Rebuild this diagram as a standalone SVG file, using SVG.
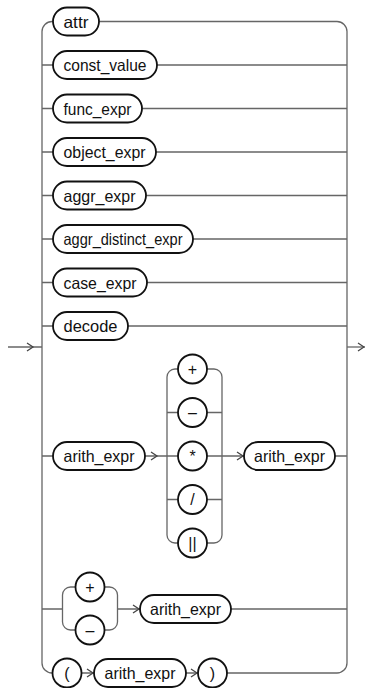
<svg xmlns="http://www.w3.org/2000/svg" width="365" height="688" viewBox="0 0 365 688">
<style>
.n rect, .n circle { fill: #fff; stroke: #111; stroke-width: 1.8; }
.n text { font-family: "Liberation Sans", Arial, sans-serif; font-size: 16.5px; fill: #111; text-anchor: middle; }
.n text.op { font-size: 16px; }
#connectors path { fill: none; stroke: #666; stroke-width: 1.3; }
#connectors path.ah { stroke: #444; stroke-width: 1.3; }
</style>
<rect width="365" height="688" fill="#fff"/>
<g id="connectors">
  <path d="M53,21.5 H52 A10,10 0 0 0 42,31.5 V663 A10,10 0 0 0 52,673 H53"/>
  <path d="M99,21.5 H337 A10,10 0 0 1 347,31.5 V663 A10,10 0 0 1 337,673 H226.5"/>
  <path d="M8,347 H42"/>
  <path class="ah" d="M27,343 L33,347 L27,351"/>
  <path d="M347,347 H365"/>
  <path class="ah" d="M358,343 L364,347 L358,351"/>
  <path d="M42,65 H53 M157,65 H347"/>
  <path d="M42,108.5 H53 M142,108.5 H347"/>
  <path d="M42,152 H53 M156,152 H347"/>
  <path d="M42,195.5 H53 M146,195.5 H347"/>
  <path d="M42,239 H53 M193,239 H347"/>
  <path d="M42,282.5 H53 M147,282.5 H347"/>
  <path d="M42,326 H53 M128,326 H347"/>
  <path d="M42,456 H53 M145,456 H178 M207,456 H244 M335,456 H347"/>
  <path class="ah" d="M151,452 L157,456 L151,460"/>
  <path class="ah" d="M237,452 L243,456 L237,460"/>
  <path d="M178,369 H175 A8,8 0 0 0 167,377 V535 A8,8 0 0 0 175,543 H178"/>
  <path d="M207,369 H214 A8,8 0 0 1 222,377 V535 A8,8 0 0 1 214,543 H207"/>
  <path d="M167,412.5 H178 M207,412.5 H222"/>
  <path d="M167,499.5 H178 M207,499.5 H222"/>
  <path d="M42,609 H62.5 M117.5,609 H140 M231,609 H347"/>
  <path class="ah" d="M133,605 L139,609 L133,613"/>
  <path d="M75.5,587 H70.5 A8,8 0 0 0 62.5,595 V622 A8,8 0 0 0 70.5,630 H75.5"/>
  <path d="M104.5,587 H109.5 A8,8 0 0 1 117.5,595 V622 A8,8 0 0 1 109.5,630 H104.5"/>
  <path d="M81.5,673 H94 M186,673 H198"/>
  <path class="ah" d="M87,669 L93,673 L87,677"/>
  <path class="ah" d="M191,669 L197,673 L191,677"/>
</g>
<g id="n-attr" class="n"><rect x="53" y="7.5" width="46" height="28" rx="14"/><text x="76" y="27.5" textLength="25" lengthAdjust="spacingAndGlyphs">attr</text></g>
<g id="n-const_value" class="n"><rect x="53" y="51" width="104" height="28" rx="14"/><text x="105" y="71" textLength="83" lengthAdjust="spacingAndGlyphs">const_value</text></g>
<g id="n-func_expr" class="n"><rect x="53" y="94.5" width="89" height="28" rx="14"/><text x="97.5" y="114.5" textLength="68" lengthAdjust="spacingAndGlyphs">func_expr</text></g>
<g id="n-object_expr" class="n"><rect x="53" y="138" width="103" height="28" rx="14"/><text x="104.5" y="158" textLength="82" lengthAdjust="spacingAndGlyphs">object_expr</text></g>
<g id="n-aggr_expr" class="n"><rect x="53" y="181.5" width="93" height="28" rx="14"/><text x="99.5" y="201.5" textLength="72" lengthAdjust="spacingAndGlyphs">aggr_expr</text></g>
<g id="n-aggr_distinct_expr" class="n"><rect x="53" y="225" width="140" height="28" rx="14"/><text x="123" y="245" textLength="119" lengthAdjust="spacingAndGlyphs">aggr_distinct_expr</text></g>
<g id="n-case_expr" class="n"><rect x="53" y="268.5" width="94" height="28" rx="14"/><text x="100" y="288.5" textLength="73" lengthAdjust="spacingAndGlyphs">case_expr</text></g>
<g id="n-decode" class="n"><rect x="53" y="312" width="75" height="28" rx="14"/><text x="90.5" y="332" textLength="54" lengthAdjust="spacingAndGlyphs">decode</text></g>
<g id="n-arith_expr-1" class="n"><rect x="53" y="442" width="92" height="28" rx="14"/><text x="99" y="462" textLength="71" lengthAdjust="spacingAndGlyphs">arith_expr</text></g>
<g id="n-op-plus" class="n"><circle cx="192.5" cy="369" r="14.5"/><text class="op" x="192.5" y="374.5">+</text></g>
<g id="n-op-minus" class="n"><circle cx="192.5" cy="412.5" r="14.5"/><text class="op" x="192.5" y="418">–</text></g>
<g id="n-op-mul" class="n"><circle cx="192.5" cy="456" r="14.5"/><text class="op" x="192.5" y="461.5">*</text></g>
<g id="n-op-div" class="n"><circle cx="192.5" cy="499.5" r="14.5"/><text class="op" x="192.5" y="505">/</text></g>
<g id="n-op-concat" class="n"><circle cx="192.5" cy="543" r="14.5"/><text class="op" x="192.5" y="548.5">||</text></g>
<g id="n-arith_expr-2" class="n"><rect x="244" y="442" width="91" height="28" rx="14"/><text x="289.5" y="462" textLength="71" lengthAdjust="spacingAndGlyphs">arith_expr</text></g>
<g id="n-unary-plus" class="n"><circle cx="90" cy="587" r="14.5"/><text class="op" x="90" y="592.5">+</text></g>
<g id="n-unary-minus" class="n"><circle cx="90" cy="630" r="14.5"/><text class="op" x="90" y="635.5">–</text></g>
<g id="n-arith_expr-3" class="n"><rect x="140" y="595" width="91" height="28" rx="14"/><text x="185.5" y="615" textLength="71" lengthAdjust="spacingAndGlyphs">arith_expr</text></g>
<g id="n-lparen" class="n"><circle cx="67" cy="673" r="14.5"/><text class="op" x="67" y="678.5">(</text></g>
<g id="n-arith_expr-4" class="n"><rect x="94" y="659" width="92" height="28" rx="14"/><text x="140" y="679" textLength="71" lengthAdjust="spacingAndGlyphs">arith_expr</text></g>
<g id="n-rparen" class="n"><circle cx="212.5" cy="673" r="14.5"/><text class="op" x="212.5" y="678.5">)</text></g>
</svg>
